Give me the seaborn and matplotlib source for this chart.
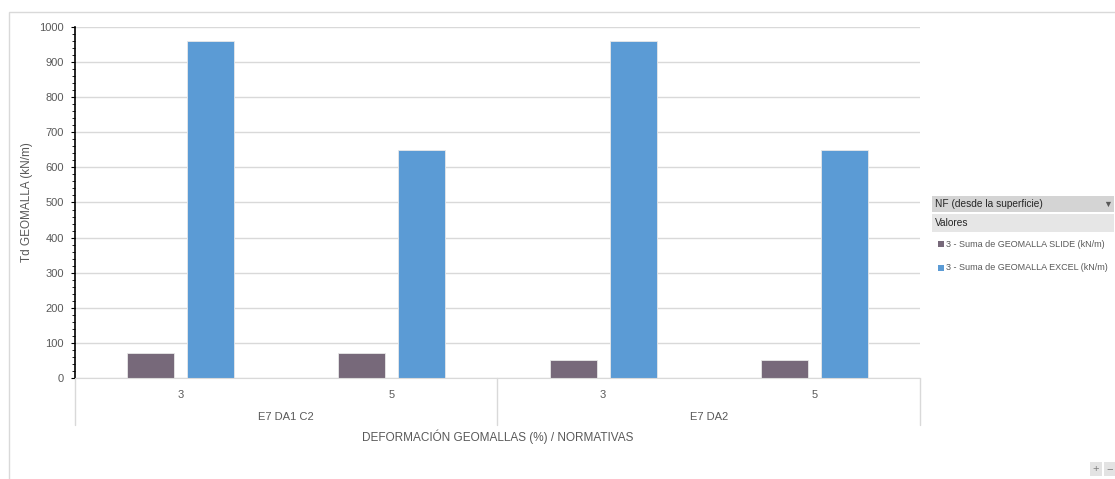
import pandas as pd
import matplotlib.pyplot as plt
import seaborn as sns
from matplotlib.patches import Rectangle
from matplotlib.ticker import MultipleLocator

# data
deformacion = ["3", "5", "3", "5"]
normativa = ["E7 DA1 C2", "E7 DA1 C2", "E7 DA2", "E7 DA2"]
slide = [70, 70, 50, 50]
excel = [960, 650, 960, 650]
series_names = ["3 - Suma de GEOMALLA SLIDE (kN/m)", "3 - Suma de GEOMALLA EXCEL (kN/m)"]
group_names = ["E7 DA1 C2", "E7 DA2"]

cat = [f"{n} | {d}" for n, d in zip(normativa, deformacion)]
df = pd.DataFrame({
    "cat": cat * 2,
    "valor": slide + excel,
    "serie": [series_names[0]] * 4 + [series_names[1]] * 4,
})

sns.set_style("white")
plt.rcParams["font.family"] = ["Liberation Sans", "DejaVu Sans"]
txt = "#595959"
colors = ["#77697A", "#5B9BD5"]

W, H = 1115, 479
fig = plt.figure(figsize=(11.15, 4.79), dpi=100)
ax = fig.add_axes([75 / W, 1 - 378 / H, 845 / W, 351 / H])

sns.barplot(data=df, x="cat", y="valor", hue="serie", palette=colors, saturation=1,
            width=0.57, gap=0.22, legend=False, ax=ax, order=cat,
            edgecolor="#E8E8E8", linewidth=0.6)

ax.set_ylim(0, 1000)
ax.set_xlim(-0.5, 3.5)
ax.yaxis.set_major_locator(MultipleLocator(100))
ax.yaxis.set_minor_locator(MultipleLocator(20))
ax.grid(axis="y", color="#D9D9D9", lw=1)
ax.set_axisbelow(True)
for s in ["top", "right"]:
    ax.spines[s].set_visible(False)
ax.spines["left"].set_color("black")
ax.spines["left"].set_linewidth(1.2)
ax.spines["bottom"].set_color("#D9D9D9")
ax.tick_params(axis="y", which="both", left=True, direction="out", color="black",
               labelcolor=txt, labelsize=8)
ax.tick_params(axis="y", which="major", length=3, pad=5)
ax.tick_params(axis="y", which="minor", length=2)
ax.set_xticks(range(4))
ax.set_xticklabels(deformacion, color=txt, fontsize=8)
ax.tick_params(axis="x", length=0, pad=9)
ax.set_xlabel("")
ax.set_ylabel("Td GEOMALLA (kN/m)", color=txt, fontsize=8.5)
ax.yaxis.set_label_coords(-42 / 845, 0.5)

# multi-level category axis
trans = ax.get_xaxis_transform()
for xv in [-0.5, 1.5, 3.5]:
    ax.plot([xv, xv], [0, -0.135], transform=trans, color="#D9D9D9", lw=1, clip_on=False)
for i, g in enumerate(group_names):
    ax.text(0.5 + 2 * i, -0.111, g, transform=trans, ha="center", va="center",
            color=txt, fontsize=8)
ax.text(1.5, -0.168, "DEFORMACIÓN GEOMALLAS (%) / NORMATIVAS", transform=trans,
        ha="center", va="center", color=txt, fontsize=8.5)

# chart area border
fig.patches.append(Rectangle((9 / W, -0.01), 1.1, 1 - 12 / H + 0.01,
                             transform=fig.transFigure, fill=False,
                             edgecolor="#D9D9D9", lw=1))

# pivot-style legend
def box(x0, y0, x1, y1, color):
    fig.patches.append(Rectangle((x0 / W, 1 - y1 / H), (x1 - x0) / W, (y1 - y0) / H,
                                 transform=fig.transFigure, color=color, lw=0))

box(932, 196, 1114, 212, "#D4D4D4")
box(932, 214, 1114, 232, "#E6E6E6")
fig.text(935 / W, 1 - 204 / H, "NF (desde la superficie)", fontsize=7.3, color="#262626", va="center")
fig.text(1112 / W, 1 - 204 / H, "▼", fontsize=6.5, color="#595959", va="center", ha="right")
fig.text(935 / W, 1 - 223 / H, "Valores", fontsize=7.3, color="#262626", va="center")
for i, (name, c) in enumerate(zip(series_names, colors)):
    y = 244 + 24 * i
    box(938, y - 3, 944, y + 3, c)
    fig.text(946 / W, 1 - y / H, name, fontsize=6.5, color=txt, va="center")

# zoom buttons
box(1090, 462, 1102, 476, "#E3E3E3")
box(1104, 462, 1115, 476, "#E3E3E3")
fig.text(1096 / W, 1 - 469 / H, "+", fontsize=8, color="#7F7F7F", ha="center", va="center")
fig.text(1109.5 / W, 1 - 469 / H, "−", fontsize=8, color="#7F7F7F", ha="center", va="center")

fig.savefig("out.png", dpi=100)
